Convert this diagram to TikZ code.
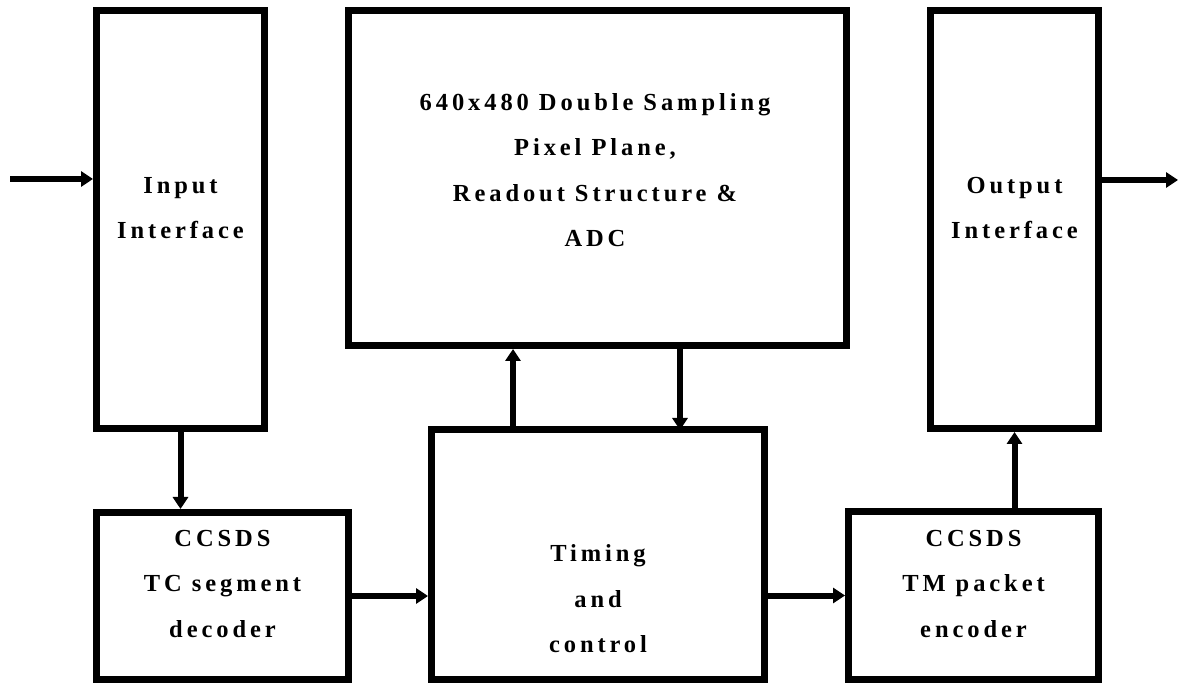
\documentclass[tikz,border=0pt]{standalone}
\usepackage{fontspec}
\setmainfont{Liberation Serif}[LetterSpace=16]
\usetikzlibrary{arrows.meta}
\begin{document}
\begin{tikzpicture}[x=1pt,y=-1pt,
  blk/.style={draw, line width=7pt, inner sep=0pt, outer sep=0.5\pgflinewidth},
  lbl/.style={align=center, inner sep=0pt, font=\fontsize{24.5}{45.5}\selectfont\bfseries},
  arr/.style={line width=6pt, -{Triangle[length=12pt,width=15pt]}}]
\useasboundingbox (0,0) rectangle (1179,684);
% boxes
\node[blk, minimum width=168pt, minimum height=418pt] (inp) at (180.5,219.5) {};
\node[blk, minimum width=498pt, minimum height=335pt] (main) at (597.5,178) {};
\node[blk, minimum width=168pt, minimum height=418pt] (outp) at (1014.5,219.5) {};
\node[blk, minimum width=252pt, minimum height=167pt] (tc) at (222.5,596) {};
\node[blk, minimum width=333pt, minimum height=250pt] (tim) at (598,554.5) {};
\node[blk, minimum width=250pt, minimum height=168pt] (tm) at (973.5,595.5) {};
% labels
\node[lbl] (tinp) at (180.5,208) {Input\\Interface};
\node[lbl] (tmain) at (595,170) {640x480 Double Sampling\\Pixel Plane,\\Readout Structure \&\\ADC};
\node[lbl] (toutp) at (1014.5,208) {Output\\Interface};
\node[lbl] (ttc) at (222.5,584) {CCSDS\\TC segment\\decoder};
\node[lbl] (ttim) at (598,599) {Timing\\and\\control};
\node[lbl] (ttm) at (973.5,584) {CCSDS\\TM packet\\encoder};
% free ends
\coordinate (inl) at (10,179);
\coordinate (outr) at (1178,180);
\coordinate (ua) at (513,0);
\coordinate (da) at (680,0);
% connectors
\draw[arr] (inl) -- (inl -| inp.west);
\draw[arr] (outp.east |- outr) -- (outr);
\draw[arr] (inp.south) -- (tc.north -| inp.south);
\draw[arr] (tc.east) -- (tim.west |- tc.east);
\draw[arr] (tim.east |- tm.west) -- (tm.west);
\draw[arr] (tm.north -| outp.south) -- (outp.south);
\draw[arr] (tim.north -| ua) -- (main.south -| ua);
\draw[arr] (main.south -| da) -- ([yshift=-4pt]tim.north -| da);
\end{tikzpicture}
\end{document}
